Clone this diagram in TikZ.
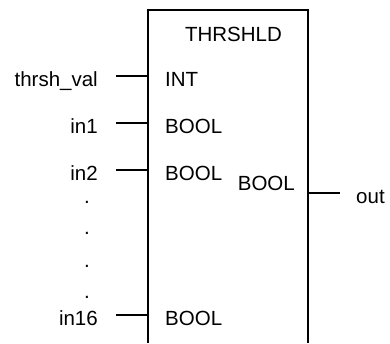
\documentclass[tikz,border=0pt]{standalone}
\usepackage{fontspec}
\setmainfont{Liberation Sans}
\begin{document}
\begin{tikzpicture}[x=1pt,y=-1pt,
  lbl/.style={inner sep=0pt,font=\fontsize{20.5}{24}\selectfont},
  lleft/.style={lbl,anchor=base east},
  lright/.style={lbl,anchor=base west},
  wire/.style={line width=2.5pt},
  boxline/.style={line width=2.6pt}]
\useasboundingbox (0,0) rectangle (390,343);
% function block outline (open at the bottom)
\coordinate (bl) at (148,343);
\coordinate (tl) at (148,10);
\coordinate (tr) at (308,10);
\coordinate (br) at (308,343);
\draw[boxline] (bl) -- (tl) -- (tr) -- (br);
\node[lbl,anchor=base] (title) at (233.5,41) {THRSHLD};
% inputs
\foreach \n/\y/\ext/\typ in {a/76/thrsh\_val/INT, b/123/in1/BOOL, c/170/in2/BOOL, d/315/in16/BOOL}{
  \coordinate (w\n) at (116,\y);
  \coordinate (p\n) at (148,\y);
  \draw[wire] (w\n) -- (p\n);
  \node[lleft] (e\n) at (98,\y+10) {\ext};
  \node[lright] (t\n) at (165,\y+10) {\typ};
}
% dots
\foreach \i/\y in {1/202,2/233,3/266,4/297}{
  \node[lbl,anchor=base] (dot\i) at (87,\y+1) {.};
}
% output
\coordinate (po) at (308,193);
\coordinate (wo) at (340,193);
\draw[wire] (po) -- (wo);
\node[lbl,anchor=base east] (to) at (295,190) {BOOL};
\node[lright] (out) at (356,203) {out};
\end{tikzpicture}
\end{document}
